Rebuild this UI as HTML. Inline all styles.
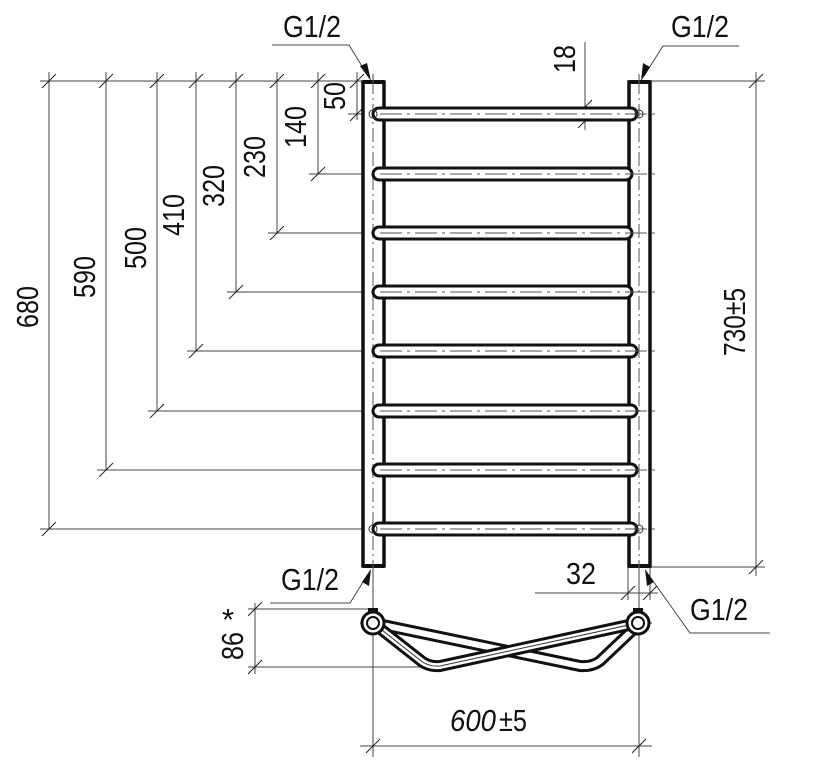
<!DOCTYPE html>
<html><head><meta charset="utf-8"><style>
html,body{margin:0;padding:0;background:#fff;}
svg{display:block;}
text{font-family:"Liberation Sans",sans-serif;font-size:31px;fill:#111;}
</style></head><body>
<svg width="838" height="768" viewBox="0 0 838 768" xmlns="http://www.w3.org/2000/svg">
<defs>
<g id="tk"><line x1="-7" y1="7" x2="7" y2="-7" stroke="#222" stroke-width="1"/></g>
</defs>
<g stroke="#444" stroke-width="1" fill="none">
<line x1="40" y1="81" x2="380" y2="81"/>
<line x1="49" y1="72" x2="49" y2="529"/>
<line x1="106" y1="72" x2="106" y2="470"/>
<line x1="157" y1="72" x2="157" y2="411"/>
<line x1="196" y1="72" x2="196" y2="351"/>
<line x1="236" y1="72" x2="236" y2="292"/>
<line x1="277" y1="72" x2="277" y2="233"/>
<line x1="318" y1="72" x2="318" y2="174"/>
<line x1="357" y1="72" x2="357" y2="120"/>
<line x1="40" y1="529" x2="372" y2="529"/>
<line x1="97" y1="470" x2="372" y2="470"/>
<line x1="148" y1="411" x2="372" y2="411"/>
<line x1="187" y1="351" x2="372" y2="351"/>
<line x1="227" y1="292" x2="372" y2="292"/>
<line x1="268" y1="233" x2="372" y2="233"/>
<line x1="309" y1="174" x2="372" y2="174"/>
<line x1="348" y1="114" x2="372" y2="114"/>
<line x1="650" y1="81" x2="765" y2="81"/>
<line x1="650" y1="567" x2="765" y2="567"/>
<line x1="756" y1="72" x2="756" y2="576"/>
<line x1="585" y1="42" x2="585" y2="130"/>
<line x1="535" y1="593" x2="658" y2="593"/>
<line x1="628" y1="567" x2="628" y2="600"/>
<line x1="650" y1="567" x2="650" y2="600"/>
<line x1="248" y1="609" x2="372" y2="609"/>
<line x1="248" y1="667" x2="440" y2="667"/>
<line x1="255" y1="603" x2="255" y2="674"/>
<line x1="373" y1="567" x2="373" y2="757"/>
<line x1="639" y1="567" x2="639" y2="757"/>
<line x1="360" y1="746" x2="652" y2="746"/>
<polyline points="272,45 349,45 368,76"/>
<polyline points="739,46 663,46 644,76"/>
<polyline points="270,603 350,603 368,574"/>
<polyline points="770,633 690,633 648,574"/>
<line x1="373" y1="74" x2="373" y2="573" stroke-dasharray="14,4,2,4"/>
<line x1="639" y1="74" x2="639" y2="573" stroke-dasharray="14,4,2,4"/>
<line x1="360" y1="623" x2="390" y2="623"/>
<line x1="622" y1="623" x2="652" y2="623"/>
</g>
<g>
<use href="#tk" x="49" y="81"/><use href="#tk" x="106" y="81"/><use href="#tk" x="157" y="81"/><use href="#tk" x="196" y="81"/><use href="#tk" x="236" y="81"/><use href="#tk" x="277" y="81"/><use href="#tk" x="318" y="81"/><use href="#tk" x="357" y="81"/>
<use href="#tk" x="49" y="529"/><use href="#tk" x="106" y="470"/><use href="#tk" x="157" y="411"/><use href="#tk" x="196" y="351"/><use href="#tk" x="236" y="292"/><use href="#tk" x="277" y="233"/><use href="#tk" x="318" y="174"/><use href="#tk" x="357" y="114"/>
<use href="#tk" x="756" y="81"/><use href="#tk" x="756" y="567"/>
<use href="#tk" x="585" y="107"/><use href="#tk" x="585" y="121"/>
<use href="#tk" x="628" y="593"/><use href="#tk" x="650" y="593"/>
<use href="#tk" x="255" y="609"/><use href="#tk" x="255" y="667"/>
<use href="#tk" x="373" y="746"/><use href="#tk" x="639" y="746"/>
</g>
<g fill="#111">
<polygon points="371,81 360,66 367,63"/>
<polygon points="641,81 643,63 650,67"/>
<polygon points="371,569 362,582 369,586"/>
<polygon points="645,569 647,586 654,582"/>
</g>
<g stroke="#111" stroke-width="3.5" fill="#fff">
<rect x="363" y="82" width="21" height="484"/>
<rect x="629" y="82" width="21" height="484"/>
</g>
<g stroke="#111" stroke-width="4">
<line x1="363" y1="82" x2="384" y2="82"/><line x1="629" y1="82" x2="650" y2="82"/>
<line x1="363" y1="566" x2="384" y2="566"/><line x1="629" y1="566" x2="650" y2="566"/>
</g>
<line x1="373" y1="80" x2="373" y2="568" stroke="#555" stroke-width="1" stroke-dasharray="14,4,2,4"/>
<line x1="639" y1="80" x2="639" y2="568" stroke="#555" stroke-width="1" stroke-dasharray="14,4,2,4"/>
<g stroke="#111" stroke-width="3" fill="#fff">
<rect x="373" y="108" width="264" height="12" rx="6"/>
<rect x="373" y="168" width="259" height="12" rx="6"/>
<rect x="373" y="227" width="259" height="12" rx="6"/>
<rect x="373" y="286" width="259" height="12" rx="6"/>
<rect x="373" y="345" width="264" height="12" rx="6"/>
<rect x="373" y="405" width="264" height="12" rx="6"/>
<rect x="373" y="464" width="264" height="12" rx="6"/>
<rect x="373" y="523" width="264" height="12" rx="6"/>
</g>
<g stroke="#555" stroke-width="1" stroke-dasharray="22,5,3,5">
<line x1="380" y1="114" x2="655" y2="114"/>
<line x1="380" y1="174" x2="655" y2="174"/>
<line x1="380" y1="233" x2="655" y2="233"/>
<line x1="380" y1="292" x2="655" y2="292"/>
<line x1="380" y1="351" x2="655" y2="351"/>
<line x1="380" y1="411" x2="655" y2="411"/>
<line x1="380" y1="470" x2="655" y2="470"/>
<line x1="380" y1="529" x2="655" y2="529"/>
</g>
<g stroke="#333" stroke-width="1" fill="none">
<circle cx="373" cy="114" r="4"/><circle cx="639" cy="114" r="4"/>
<circle cx="373" cy="529" r="4"/><circle cx="639" cy="529" r="4"/>
</g>
<g fill="none" stroke-linejoin="round" stroke-linecap="round">
<path d="M638,625 L600,661 Q592,667 580,666 L373,623" stroke="#111" stroke-width="12"/>
<path d="M638,625 L600,661 Q592,667 580,666 L373,623" stroke="#fff" stroke-width="6"/>
<path d="M373,623 L420,660 Q428,667 440,666 L638,623" stroke="#111" stroke-width="12"/>
<path d="M373,623 L420,660 Q428,667 440,666 L638,623" stroke="#fff" stroke-width="6"/>
<path d="M373,623 L420,660 Q428,667 440,666 L638,623" stroke="#333" stroke-width="1"/>
</g>
<g stroke="#111" stroke-width="3" fill="#fff">
<circle cx="373" cy="623" r="11"/><circle cx="638" cy="623" r="11"/>
</g>
<g stroke="#111" stroke-width="2" fill="#fff">
<circle cx="373" cy="623" r="6"/><circle cx="638" cy="623" r="6"/>
</g>
<rect x="368" y="608" width="10" height="4" fill="#111"/>
<rect x="633" y="608" width="10" height="4" fill="#111"/>
<g>
<text x="283" y="37" textLength="58" lengthAdjust="spacingAndGlyphs">G1/2</text>
<text x="671" y="37" textLength="58" lengthAdjust="spacingAndGlyphs">G1/2</text>
<text x="281" y="590" textLength="58" lengthAdjust="spacingAndGlyphs">G1/2</text>
<text x="690" y="620" textLength="58" lengthAdjust="spacingAndGlyphs">G1/2</text>
<text x="566" y="584" textLength="30" lengthAdjust="spacingAndGlyphs">32</text>
<text x="450" y="731" font-style="italic" textLength="46" lengthAdjust="spacingAndGlyphs">600</text>
<text x="499" y="731" textLength="28" lengthAdjust="spacingAndGlyphs">±5</text>
<text transform="translate(38,307) rotate(-90)" text-anchor="middle" textLength="42" lengthAdjust="spacingAndGlyphs">680</text>
<text transform="translate(95,277) rotate(-90)" text-anchor="middle" textLength="42" lengthAdjust="spacingAndGlyphs">590</text>
<text transform="translate(146,248) rotate(-90)" text-anchor="middle" textLength="42" lengthAdjust="spacingAndGlyphs">500</text>
<text transform="translate(184,215) rotate(-90)" text-anchor="middle" textLength="42" lengthAdjust="spacingAndGlyphs">410</text>
<text transform="translate(224,186) rotate(-90)" text-anchor="middle" textLength="42" lengthAdjust="spacingAndGlyphs">320</text>
<text transform="translate(265,157) rotate(-90)" text-anchor="middle" textLength="42" lengthAdjust="spacingAndGlyphs">230</text>
<text transform="translate(306,127) rotate(-90)" text-anchor="middle" textLength="42" lengthAdjust="spacingAndGlyphs">140</text>
<text transform="translate(345,96) rotate(-90)" text-anchor="middle" textLength="28" lengthAdjust="spacingAndGlyphs">50</text>
<text transform="translate(575,59) rotate(-90)" text-anchor="middle" textLength="28" lengthAdjust="spacingAndGlyphs">18</text>
<text transform="translate(745,322) rotate(-90)" text-anchor="middle" textLength="68" lengthAdjust="spacingAndGlyphs">730±5</text>
<text transform="translate(243,646) rotate(-90)" text-anchor="middle" textLength="28" lengthAdjust="spacingAndGlyphs">86</text>
<text x="222" y="630" font-size="22">*</text>
</g>
</svg>
</body></html>
